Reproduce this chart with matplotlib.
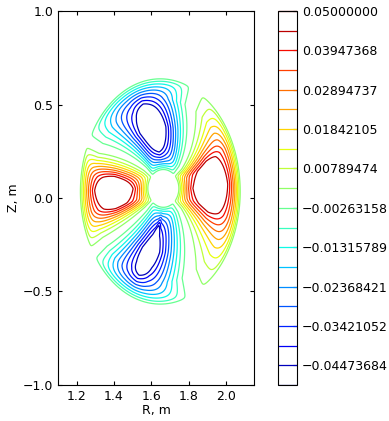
import numpy as np
import matplotlib
matplotlib.use('Agg')
import matplotlib.pyplot as plt

# contour levels and colorbar labels
levels = np.linspace(-0.05, 0.05, 20)
cbar_labels = ['\u22120.04473684', '\u22120.03421052', '\u22120.02368421',
               '\u22120.01315789', '\u22120.00263158', '0.00789474',
               '0.01842105', '0.02894737', '0.03947368', '0.05000000']
x_ticks = [1.2, 1.4, 1.6, 1.8, 2.0]
y_ticks = [-1.0, -0.5, 0.0, 0.5, 1.0]

# surface geometry (m)
r_axis, z_axis = 1.648, 0.035     # centre of the outer surface
r_shift, z_shift = 0.017, 0.017   # extra shift of the inner surfaces
minor_r = 0.428
elong, elong_drop = 1.41, 0.2     # edge elongation, drop towards the centre
# perturbation amplitude and radial ramps (normalised radius)
amp = 0.0495
ramp_in = [0.185, 0.237]     # start, length
ramp_out = [1.0083, 0.2187]  # end, length
edge_soft = 1.5              # rounding of the lobe corners
ang_pow = 1.6                # how slowly the lobes rise off the zero lines
scale = 1.4
# poloidal structure: geometric angle (deg) of lobe centres, plateau edges
# and zero lines, near the centre and near the edge
eta_knots = [-180, -167.3, -135, -102.7, -90, -77.3, -45, -12.7, 0,
             12.7, 45, 77.3, 90, 102.7, 135, 167.3, 180]
theta_inner = [-180, -157, -131, -98, -95, -92, -52, -21.5, 0,
               23.9, 50, 84.4, 95, 106, 132, 167, 180]
theta_outer = [-180, -163, -137.8, -112, -105, -98.5, -73, -22.2, 5.7,
               33.6, 71.5, 93.5, 102, 110.3, 146, 168, 180]
twist_rho = [0.3, 0.85]

plt.rcParams['font.size'] = 9

R = np.linspace(1.1, 2.15, 600)
Z = np.linspace(-1.0, 1.0, 1100)
RR, ZZ = np.meshgrid(R, Z)

# shifted, elongated surfaces
rho = np.hypot((RR - r_axis) / minor_r, (ZZ - z_axis) / (elong * minor_r))
for _ in range(40):
    core = 1 - np.clip(rho, 0, 1) ** 2
    rc = r_axis + r_shift * core
    zc = z_axis + z_shift * core
    kap = elong - elong_drop * core
    rho = np.hypot((RR - rc) / minor_r, (ZZ - zc) / (kap * minor_r))
theta = np.degrees(np.arctan2(ZZ - zc, RR - rc))

# poloidal phase from the knots, blended from inner to outer set
t = np.clip((rho - twist_rho[0]) / (twist_rho[1] - twist_rho[0]), 0, 1)
knots = [a + (b - a) * t for a, b in zip(theta_inner, theta_outer)]
eta = np.zeros_like(theta)
for i in range(len(eta_knots) - 1):
    lo, hi = knots[i], knots[i + 1]
    sel = (theta >= lo) & (theta <= hi)
    eta[sel] = (eta_knots[i] + (theta - lo) / (hi - lo)
                * (eta_knots[i + 1] - eta_knots[i]))[sel]

sgn = np.sign(np.cos(2 * np.radians(eta)))
dist = 45 - np.abs((eta + 45) % 90 - 45)          # deg from nearest zero line
ang = scale * 0.903 * (dist / (45 - eta_knots[9])) ** ang_pow
rad = scale * np.minimum((rho - ramp_in[0]) / ramp_in[1],
                         (ramp_out[0] - rho) / ramp_out[1])
rad = np.maximum(rad, 1e-6)
ang = np.maximum(ang, 1e-6)
mix = (rad ** -edge_soft + ang ** -edge_soft) ** (-1 / edge_soft)
field = amp * sgn * np.clip(mix, 0, 1)

fig = plt.figure(figsize=(3.89, 4.21), dpi=100)
ax = fig.add_axes([58 / 389, 36 / 421, 196 / 389, 374 / 421])
cax = fig.add_axes([278 / 389, 36 / 421, 19 / 389, 374 / 421])

cs = ax.contour(RR, ZZ, field, levels=levels, cmap='jet', linewidths=0.9)
ax.set_xlim(1.1, 2.15)
ax.set_ylim(-1.0, 1.0)
ax.set_aspect('equal')
ax.set_xticks(x_ticks)
ax.set_yticks(y_ticks)
ax.set_xlabel('R, m', labelpad=1)
ax.set_ylabel('Z, m', labelpad=2)
ax.tick_params(direction='in', top=True, right=True, length=3)

cb = fig.colorbar(cs, cax=cax)
cb.set_ticks(levels[1::2])
cb.set_ticklabels(cbar_labels)
cax.tick_params(direction='in', length=3)

fig.savefig('out.png', dpi=100)
